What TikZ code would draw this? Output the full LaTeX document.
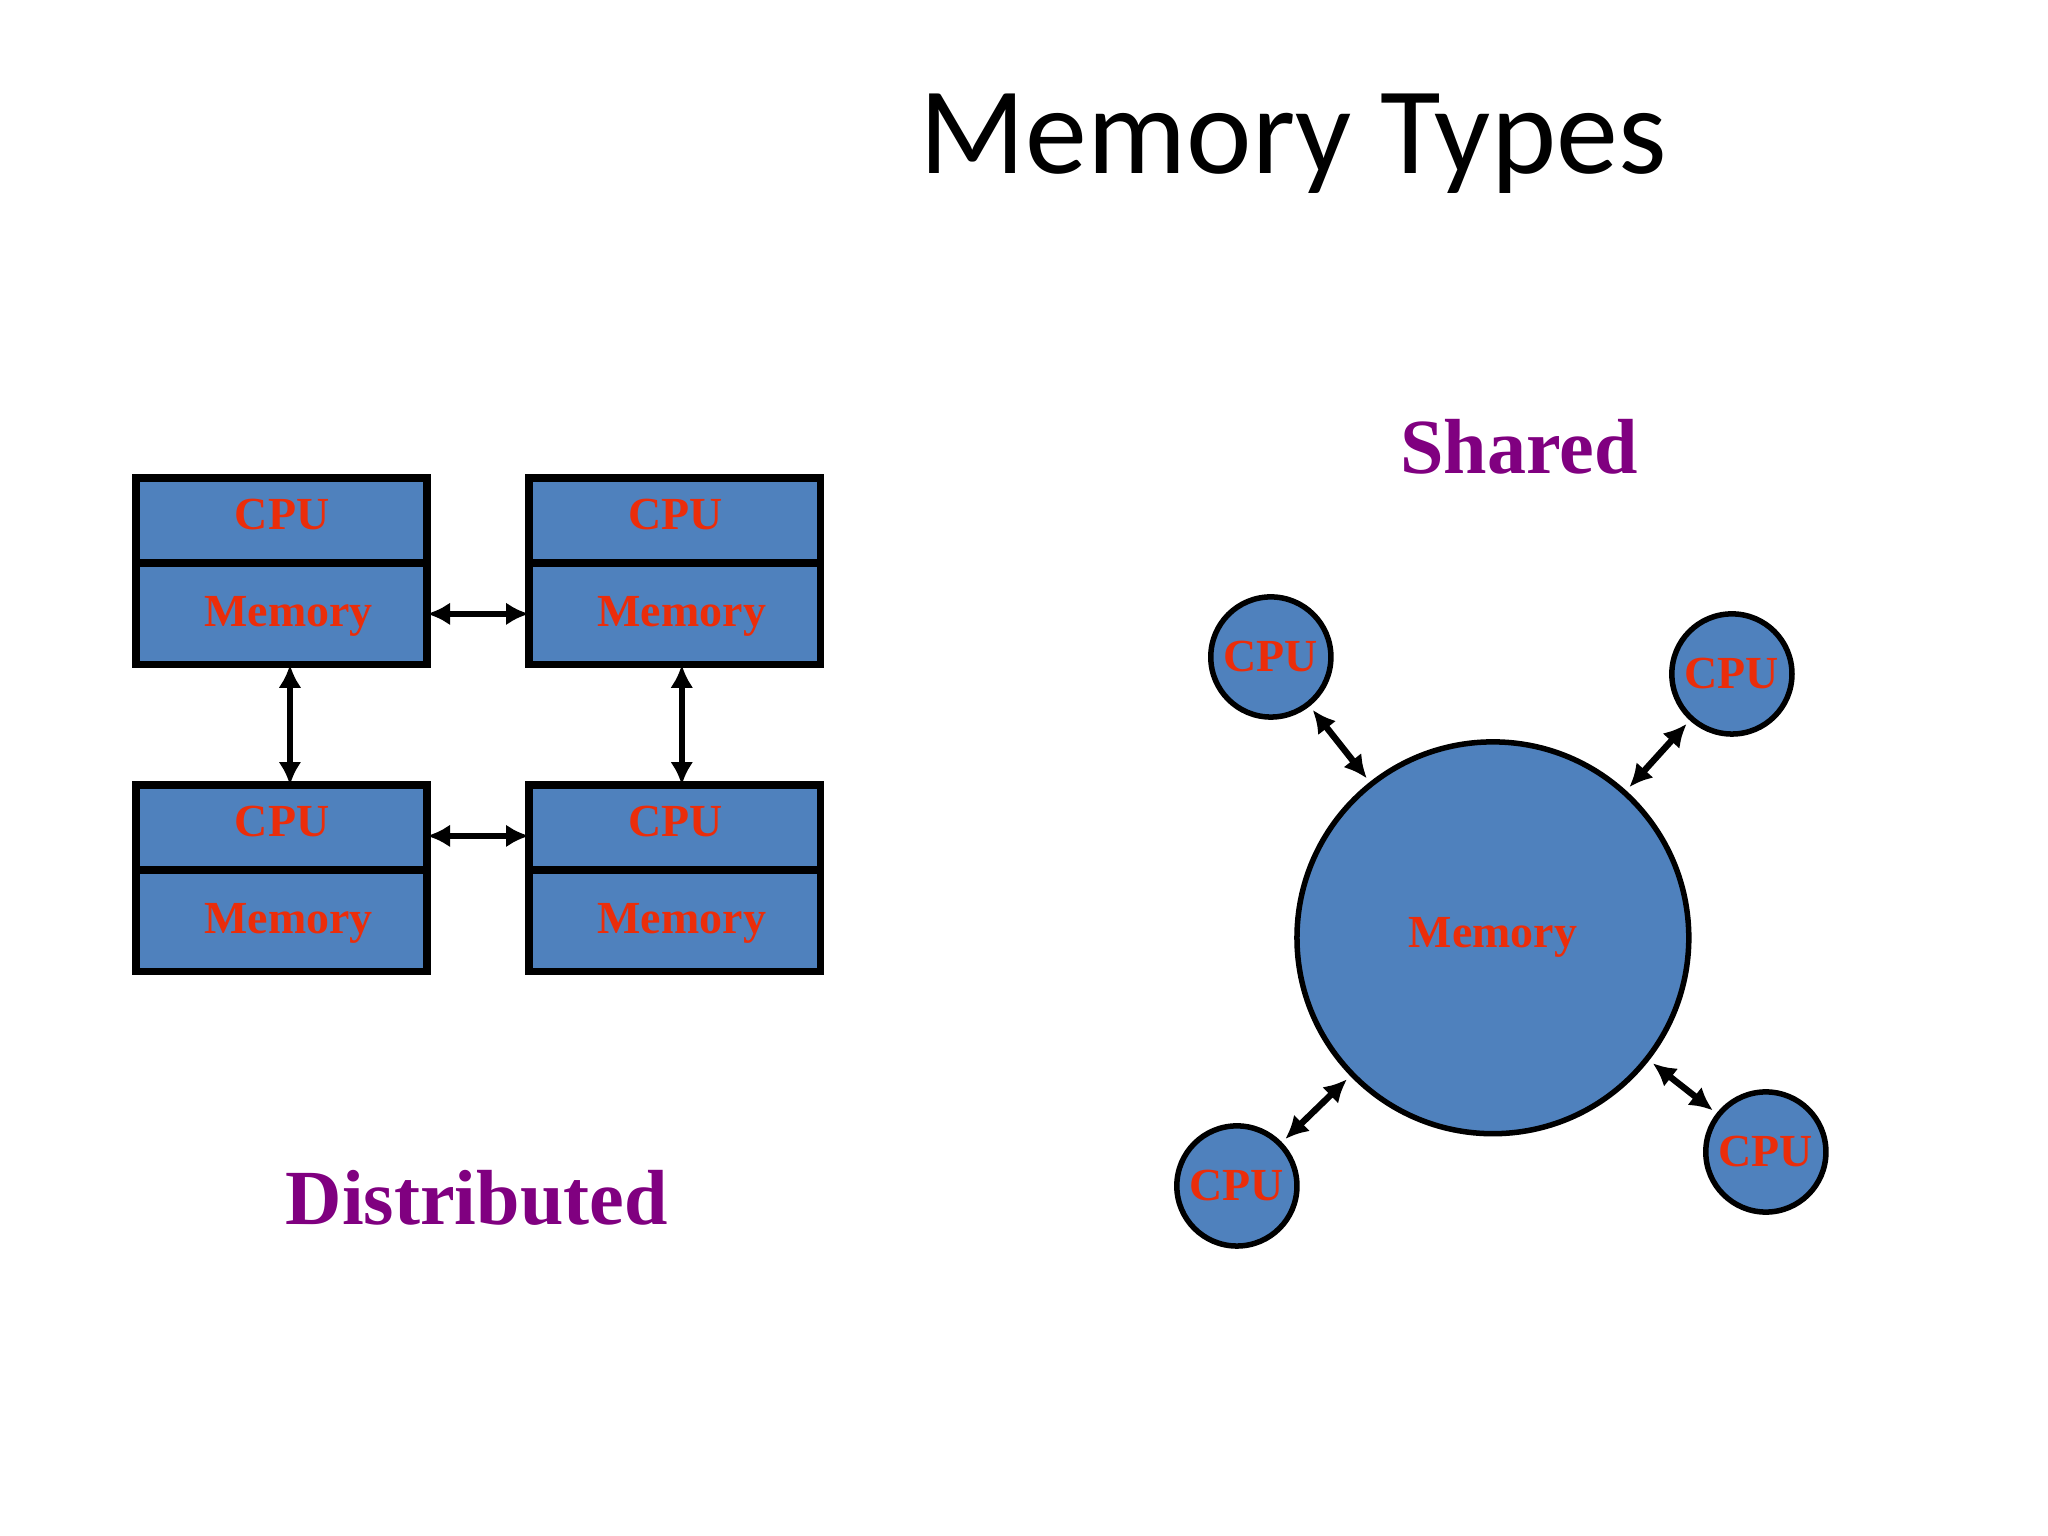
\documentclass[tikz,border=0pt]{standalone}
\usepackage{fontspec}
\setmainfont{Liberation Serif}
\newfontfamily\titlefont{Carlito}
\usetikzlibrary{arrows.meta}
\definecolor{boxblue}{RGB}{79,129,189}
\definecolor{lblred}{RGB}{235,45,10}
\definecolor{lblpurple}{RGB}{128,0,128}
\begin{document}
\begin{tikzpicture}[x=0.01cm,y=-0.01cm,
  part/.style={draw=black,line width=1.6pt,fill=boxblue,minimum width=223\pgflinewidth,inner sep=0pt,anchor=north west},
  lbl/.style={text=lblred,font=\bfseries\fontsize{10}{12}\selectfont},
  cpuc/.style={circle,draw=black,line width=1.2pt,fill=boxblue,minimum size=92*0.01cm,inner sep=0pt,lbl},
  conn/.style={{Latex[length=5pt,width=5pt]}-{Latex[length=5pt,width=5pt]},line width=1.4pt},
  big/.style={text=lblpurple,font=\bfseries\fontsize{17}{20}\selectfont}]
\useasboundingbox[fill=white] (0,0) rectangle (1568,1176);
\node[font=\titlefont\fontsize{27}{32}\selectfont] (title) at (990,110) {Memory Types};
% distributed
\foreach \n/\x/\y in {a/104/366,b/405/366,c/104/601,d/405/601}{
  \draw[line width=1.6pt,fill=boxblue] (\x,\y) rectangle +(223,143);
  \draw[line width=1.6pt] (\x,\y+65) -- +(223,0);
  \node[lbl] (\n cpu) at (\x+112,\y+28) {CPU};
  \node[lbl] (\n mem) at (\x+117,\y+106) {Memory};
  \coordinate (\n L) at (\x,\y+104);
  \coordinate (\n R) at (\x+223,\y+104);
  \coordinate (\n T) at (\x+118,\y);
  \coordinate (\n B) at (\x+118,\y+143);
}
\coordinate (abr) at (327,470); \coordinate (bbl) at (405,470);
\coordinate (cbr) at (327,640); \coordinate (dbl) at (405,640);
\coordinate (ab) at (222,509); \coordinate (ct) at (222,601);
\coordinate (bb) at (522,509); \coordinate (dt) at (522,601);
\draw[conn] (abr) -- (bbl);
\draw[conn] (cbr) -- (dbl);
\draw[conn] (ab) -- (ct);
\draw[conn] (bb) -- (dt);
\node[big] (dist) at (365,917) {Distributed};
% shared
\node[big] (shared) at (1163,342) {Shared};
\node[circle,draw=black,line width=1.2pt,fill=boxblue,minimum size=300*0.01cm,inner sep=0pt,lbl] (mem) at (1143,718) {Memory};
\node[cpuc] (c1) at (973,503) {CPU};
\node[cpuc] (c2) at (1326,516) {CPU};
\node[cpuc] (c3) at (947,908) {CPU};
\node[cpuc] (c4) at (1352,882) {CPU};
\foreach \c in {c1,c2,c3,c4}{\draw[conn,shorten <=1pt,shorten >=1pt] (\c) -- (mem);}
\end{tikzpicture}
\end{document}
